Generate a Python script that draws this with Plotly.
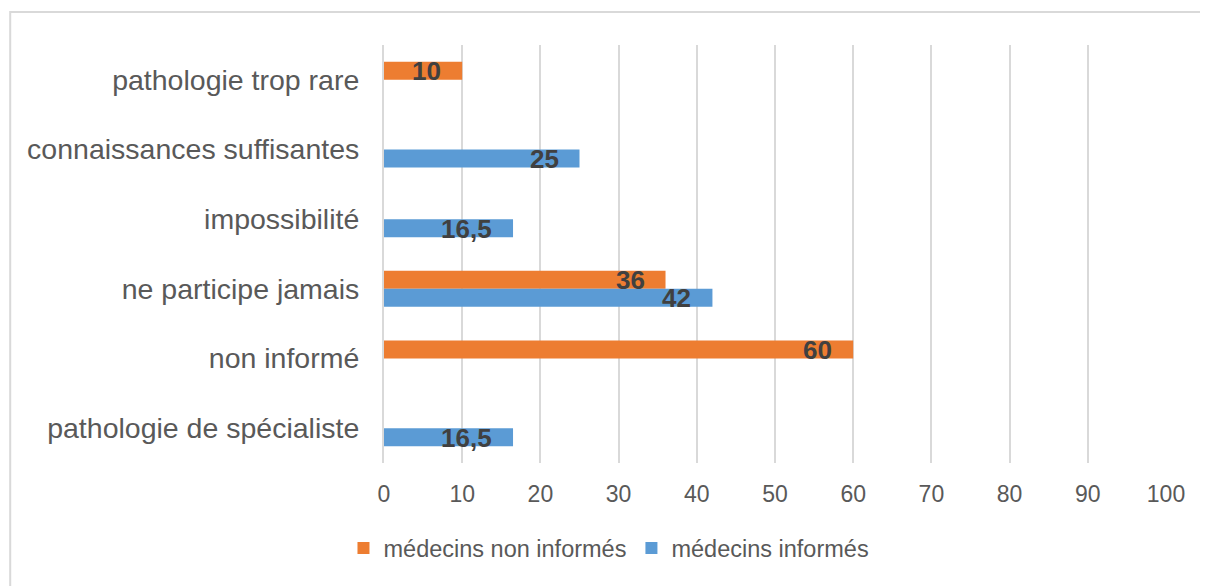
import plotly.graph_objects as go

categories = [
    "pathologie trop rare",
    "connaissances suffisantes",
    "impossibilité",
    "ne participe jamais",
    "non informé",
    "pathologie de spécialiste",
]
non_informes = [10, None, None, 36, 60, None]
informes = [None, 25, 16.5, 42, None, 16.5]
x_ticks = [0, 10, 20, 30, 40, 50, 60, 70, 80, 90, 100]

ORANGE = "#ED7D31"
BLUE = "#5B9BD5"
GRID = "#D9D9D9"
TEXT = "#595959"
LABEL = "#404040"
FONT = "Liberation Sans, Arial, sans-serif"

fig = go.Figure()
fig.add_trace(go.Bar(name="médecins non informés", y=categories, x=non_informes,
                     orientation="h", marker=dict(color=ORANGE, line=dict(width=0))))
fig.add_trace(go.Bar(name="médecins informés", y=categories, x=informes,
                     orientation="h", marker=dict(color=BLUE, line=dict(width=0))))

def fmt(v):
    s = f"{v:g}"
    return s.replace(".", ",")

annotations = []
for vals, ys in ((non_informes, 8.5), (informes, -9.5)):
    for c, v in zip(categories, vals):
        if v is None:
            continue
        annotations.append(dict(
            x=v, y=c, xref="x", yref="y", text=f"<b>{fmt(v)}</b>",
            showarrow=False, xanchor="right", yanchor="middle",
            xshift=-19, yshift=ys,
            font=dict(family=FONT, size=26, color=LABEL)))

fig.update_layout(
    width=1208, height=586,
    margin=dict(l=376, r=50, t=37, b=131, autoexpand=False),
    paper_bgcolor="white", plot_bgcolor="white",
    barmode="group", bargap=0.483, bargroupgap=0,
    font=dict(family=FONT, color=TEXT),
    annotations=annotations,
    showlegend=True,
    legend=dict(orientation="h", xref="container", yref="container", x=0.4975, xanchor="center",
                y=0.078, yanchor="middle", font=dict(family=FONT, size=23.5, color=TEXT),
                traceorder="normal", itemwidth=30),
    shapes=[dict(type="rect", xref="paper", yref="paper",
                 x0=-0.478, x1=1.2, y0=-0.5, y1=1.079,
                 line=dict(color=GRID, width=2), fillcolor="rgba(0,0,0,0)", layer="below")],
)
fig.update_xaxes(range=[0, 100], tickvals=x_ticks, showgrid=True, gridcolor=GRID, gridwidth=2,
                 zeroline=False, showline=False, ticks="outside", ticklen=10, automargin=False,
                 tickangle=0,
                 tickcolor="rgba(0,0,0,0)", tickfont=dict(family=FONT, size=23, color=TEXT))
fig.update_yaxes(autorange="reversed", showgrid=False, zeroline=False, showline=True,
                 linecolor=GRID, linewidth=2, ticks="outside", ticklen=17, automargin=False,
                 tickcolor="rgba(0,0,0,0)", tickfont=dict(family=FONT, size=28.5, color=TEXT))

fig.write_html("out.html")
